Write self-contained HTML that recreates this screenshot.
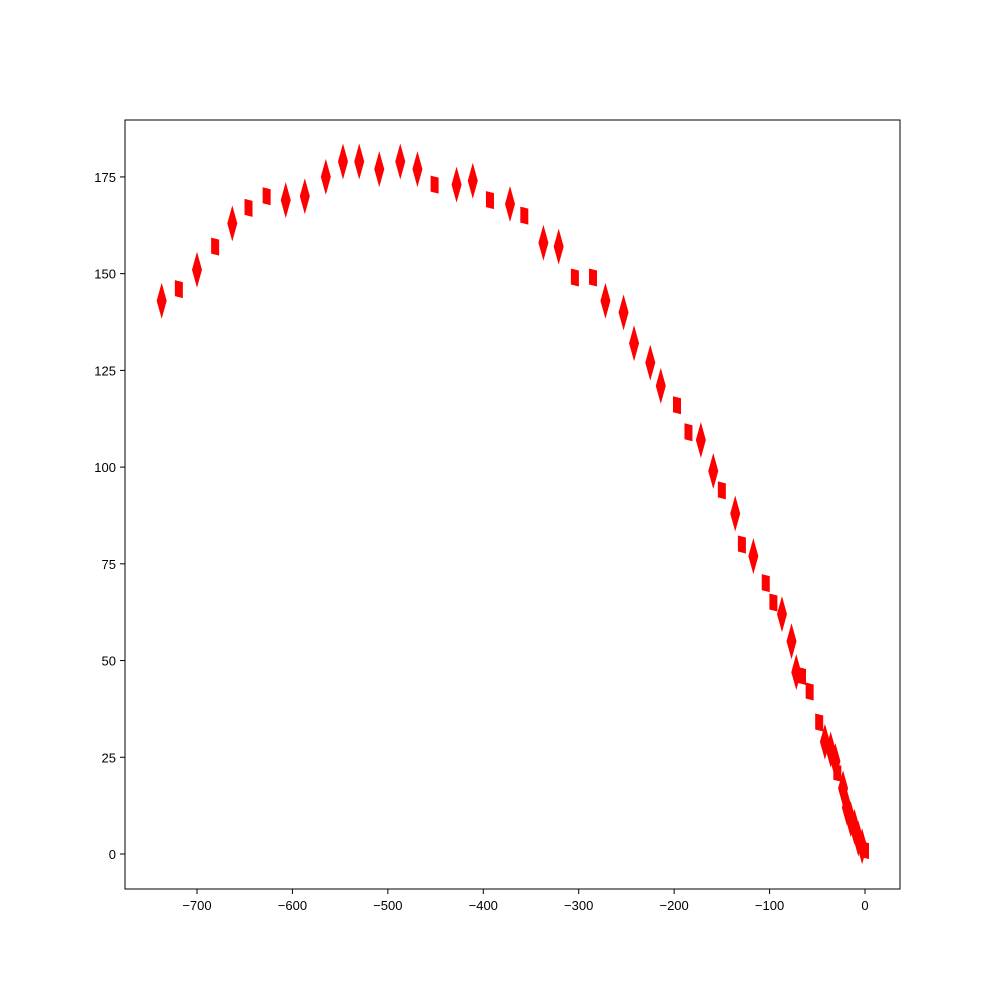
<!DOCTYPE html>
<html><head><meta charset="utf-8"><style>
body{margin:0;background:#fff;}
svg{display:block;font-family:"Liberation Sans",sans-serif;}
</style></head><body>
<svg id="chart" width="1000" height="1000">
<rect x="0" y="0" width="1000" height="1000" fill="#fff"/>
<g id="marks"></g>
<g id="axes"></g>
</svg>
<script>
const xs=[-737,-719,-700,-681,-663,-646,-627,-607,-587,-565,-547,-530,-509,-487,-469,-451,-428,-411,-393,-372,-357,-337,-321,-304,-285,-272,-253,-242,-225,-214,-197,-185,-172,-159,-150,-136,-129,-117,-104,-96,-87,-77,-72,-66,-58,-48,-42,-36,-31,-29,-23,-19,-15,-11,-7,-3,0];
const ys=[143,146,151,157,163,167,170,169,170,175,179,179,177,179,177,173,173,174,169,168,165,158,157,149,149,143,140,132,127,121,116,109,107,99,94,88,80,77,70,65,62,55,47,46,42,34,29,27,24,21,17,12,9,7,4,2,1];
const kinds=["D","R","D","R","D","R","R","D","D","D","D","D","D","D","D","R","D","D","R","D","R","D","D","R","R","D","D","D","D","D","R","R","D","D","R","D","R","D","R","R","D","D","D","R","R","R","D","D","D","R","D","D","D","D","D","D","R"];
const xTicks=[-700,-600,-500,-400,-300,-200,-100,0];
const yTicks=[0,25,50,75,100,125,150,175];
const L=125,R=900,T=120,B=889;
const sx=v=>865+v*0.9543;
const sy=v=>854-v*3.869;
const NS="http://www.w3.org/2000/svg";
const marks=document.getElementById('marks');
xs.forEach((x,i)=>{
  const cx=sx(x),cy=sy(ys[i]);
  const p=document.createElementNS(NS,'polygon');
  let pts;
  if(kinds[i]==="D"){pts=[[cx,cy-18],[cx+5,cy],[cx,cy+18],[cx-5,cy]];}
  else{pts=[[cx-4,cy-9],[cx+4,cy-7],[cx+4,cy+9],[cx-4,cy+7]];}
  p.setAttribute('points',pts.map(q=>q.join(',')).join(' '));
  p.setAttribute('fill','#ff0000');
  
  
  marks.appendChild(p);
});
const axes=document.getElementById('axes');
let h=`<rect x="${L}" y="${T}" width="${R-L}" height="${B-T}" fill="none" stroke="#000" stroke-width="1"/>`;
xTicks.forEach(t=>{const x=sx(t);h+=`<line x1="${x}" y1="${B}" x2="${x}" y2="${B+5}" stroke="#000"/><text x="${x}" y="${B+21}" font-size="13" text-anchor="middle">${t<0?'\u2212'+(-t):t}</text>`;});
yTicks.forEach(t=>{const y=sy(t);h+=`<line x1="${L-5}" y1="${y}" x2="${L}" y2="${y}" stroke="#000"/><text x="${L-9}" y="${y+5}" font-size="13" text-anchor="end">${t}</text>`;});
axes.innerHTML=h;
</script>
</body></html>
